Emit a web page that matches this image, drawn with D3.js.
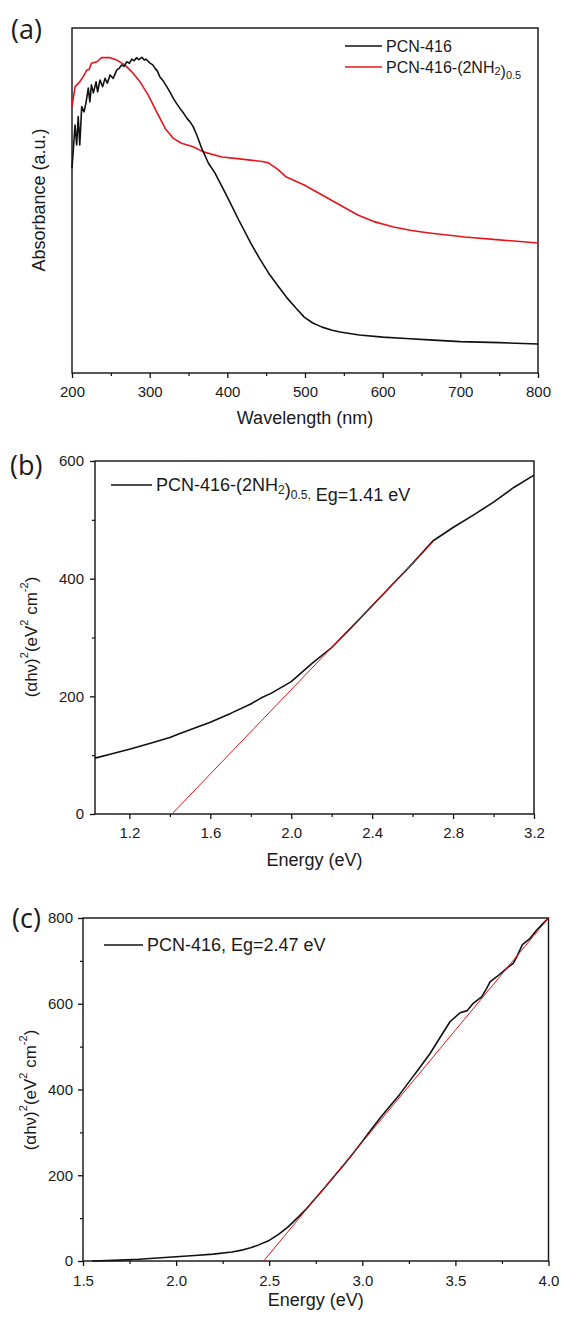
<!DOCTYPE html>
<html>
<head>
<meta charset="utf-8">
<script src="https://cdn.jsdelivr.net/npm/d3@7"></script>
<style>
  html, body { margin: 0; padding: 0; background: #fff; }
  svg { display: block; }
  text { font-family: "Liberation Sans", Arial, sans-serif; fill: #1a1a1a; }
  .panel-tag { font-family: "Open Sans", "Noto Sans", sans-serif; }
</style>
</head>
<body>
<svg id="fig" width="561" height="1320"></svg>
<script>
// ---------- (a) UV-vis absorbance spectra ----------
const wlPCN416 = [200,203.9,206,208,210,212.5,215.5,218,221,223,225,227.5,231,233,236,239.5,242.5,245.5,249,253,257.6,261,264,267,270.5,274,277,280,283,286,290,293,295,300.5,304,307,310,313,317,322,326,330.5,335,339,344,348,352,356,360.7,367,375.7,384,392,402,415,430,442,453,465,476,488,499,510,522,535,545,570,600,630,660,700,750,800];
const absPCN416 = [0.593,0.719,0.661,0.743,0.661,0.772,0.757,0.783,0.826,0.786,0.835,0.812,0.844,0.815,0.849,0.830,0.854,0.840,0.864,0.854,0.878,0.884,0.893,0.889,0.902,0.898,0.910,0.905,0.914,0.908,0.915,0.907,0.910,0.898,0.893,0.883,0.875,0.859,0.848,0.830,0.815,0.796,0.780,0.767,0.752,0.738,0.728,0.714,0.690,0.651,0.608,0.580,0.545,0.501,0.442,0.377,0.330,0.290,0.253,0.220,0.189,0.162,0.145,0.133,0.124,0.119,0.110,0.104,0.100,0.096,0.091,0.088,0.084];

const wlNH2 = [200,204,210,214.5,219,222,225,232,235,238,249,257.6,268,277,287.6,298,309,320,330.5,341,356,369,393,410,430,445,453,465,476,499,522,545,568,590,614,637,660,706,750,800];
const absNH2 = [0.772,0.830,0.844,0.859,0.878,0.880,0.898,0.902,0.908,0.914,0.914,0.907,0.893,0.873,0.844,0.806,0.757,0.709,0.680,0.666,0.656,0.641,0.626,0.622,0.617,0.613,0.609,0.590,0.568,0.545,0.516,0.487,0.458,0.438,0.423,0.413,0.406,0.394,0.386,0.377];

const wlTicks = [200,300,400,500,600,700,800];
const wlMinorTicks = [250,350,450,550,650,750];

// ---------- (b) Tauc plot, PCN-416-(2NH2)0.5 ----------
const energyB = [1.03,1.1,1.2,1.3,1.4,1.45,1.5,1.6,1.7,1.8,1.85,1.9,2.0,2.1,2.2,2.3,2.4,2.5,2.6,2.7,2.8,2.9,3.0,3.1,3.2];
const taucB   = [95,101,110,120,130,137,143,156,171,187,197,205,225,255,283,318,354,390,426,464,487,508,530,555,576];
const fitEnergyB = [1.41, 2.70];
const fitTaucB   = [0, 462];
const energyTicksB = [1.2,1.6,2.0,2.4,2.8,3.2];
const energyMinorB = [1.4,1.8,2.2,2.6,3.0];
const taucTicksB = [0,200,400,600];
const taucMinorB = [100,300,500];

// ---------- (c) Tauc plot, PCN-416 ----------
const energyC = [1.55,1.7,1.8,1.9,2.0,2.1,2.2,2.3,2.36,2.4,2.44,2.5,2.55,2.6,2.65,2.7,2.75,2.8,2.85,2.9,2.95,3.0,3.05,3.1,3.15,3.2,3.265,3.3,3.364,3.426,3.471,3.525,3.564,3.596,3.623,3.641,3.668,3.686,3.722,3.766,3.79,3.811,3.83,3.86,3.9,3.937,3.97,4.0];
const taucC   = [0,2,4,7,10,13,16,21,26,31,37,48,62,79,100,122,147,172,198,224,251,279,308,336,362,388,426,446,484,527,558,579,584,601,610,616,636,651,663,679,688,694,710,738,752,772,787,800];
const fitEnergyC = [2.47, 4.0];
const fitTaucC   = [0, 800];
const energyTicksC = [1.5,2.0,2.5,3.0,3.5,4.0];
const energyMinorC = [1.75,2.25,2.75,3.25,3.75];
const taucTicksC = [0,200,400,600,800];
const taucMinorC = [100,300,500,700];

const BLACK = "#111";
const RED = "#e8141c";

const svg = d3.select("#fig");

function zip(xs, ys) { return xs.map((x, i) => [x, ys[i]]); }

function framePanel(opt) {
  const g = svg.append("g");
  const x = d3.scaleLinear().domain(opt.xDomain).range([opt.left, opt.right]);
  const y = d3.scaleLinear().domain(opt.yDomain).range([opt.bottom, opt.top]);

  // bottom axis: major + minor ticks
  const xa = g.append("g").attr("transform", `translate(0,${opt.bottom})`)
    .call(d3.axisBottom(x).tickValues(opt.xTicks).tickFormat(opt.xFormat)
      .tickSize(5).tickSizeOuter(0).tickPadding(opt.xPad));
  xa.select(".domain").remove();
  xa.selectAll("line").attr("stroke", BLACK).attr("stroke-width", 1.3);
  xa.selectAll("text").style("font-size", "15px").attr("fill", "#222");
  const xm = g.append("g").attr("transform", `translate(0,${opt.bottom})`)
    .call(d3.axisBottom(x).tickValues(opt.xMinor).tickFormat("").tickSize(3).tickSizeOuter(0));
  xm.select(".domain").remove();
  xm.selectAll("line").attr("stroke", BLACK).attr("stroke-width", 1.2);

  if (opt.yTicks) {
    const ya = g.append("g").attr("transform", `translate(${opt.left},0)`)
      .call(d3.axisLeft(y).tickValues(opt.yTicks).tickFormat(d3.format("d"))
        .tickSize(5).tickSizeOuter(0).tickPadding(opt.yPad));
    ya.select(".domain").remove();
    ya.selectAll("line").attr("stroke", BLACK).attr("stroke-width", 1.3);
    ya.selectAll("text").style("font-size", "15px").attr("fill", "#222");
    const ym = g.append("g").attr("transform", `translate(${opt.left},0)`)
      .call(d3.axisLeft(y).tickValues(opt.yMinor).tickFormat("").tickSize(3).tickSizeOuter(0));
    ym.select(".domain").remove();
    ym.selectAll("line").attr("stroke", BLACK).attr("stroke-width", 1.2);
  }

  // box frame
  g.append("rect")
    .attr("x", opt.left).attr("y", opt.top)
    .attr("width", opt.right - opt.left).attr("height", opt.bottom - opt.top)
    .attr("fill", "none").attr("stroke", BLACK).attr("stroke-width", 1.4);

  // x title
  g.append("text")
    .attr("x", (opt.left + opt.right) / 2).attr("y", opt.xTitleY)
    .attr("text-anchor", "middle").attr("dominant-baseline", "central")
    .style("font-size", "18px").text(opt.xTitle);

  // panel tag
  g.append("text").attr("class", "panel-tag")
    .attr("x", opt.tagX).attr("y", opt.tagY)
    .attr("dominant-baseline", "central")
    .style("font-size", "27px").text(opt.tag);

  return { g, x, y };
}

function taucTitle(g, cx, cy) {
  const t = g.append("text")
    .attr("transform", `translate(${cx},${cy}) rotate(-90)`)
    .attr("text-anchor", "middle").attr("dominant-baseline", "central")
    .style("font-size", "17px");
  t.append("tspan").text("(αhν)");
  t.append("tspan").attr("dy", -7).style("font-size", "11px").text("2");
  t.append("tspan").attr("dy", 7).text("(eV");
  t.append("tspan").attr("dy", -7).style("font-size", "11px").text("2");
  t.append("tspan").attr("dy", 7).text(" cm");
  t.append("tspan").attr("dy", -7).style("font-size", "11px").text("-2");
  t.append("tspan").attr("dy", 7).text(")");
}

function legendRow(g, x1, x2, yy, color, size, parts) {
  g.append("line").attr("x1", x1).attr("x2", x2).attr("y1", yy).attr("y2", yy)
    .attr("stroke", color).attr("stroke-width", 1.6);
  const subSize = Math.round(size * 0.66);
  const drop = Math.round(size * 0.28);
  const t = g.append("text").attr("x", x2 + 4).attr("y", yy)
    .attr("dominant-baseline", "central").style("font-size", size + "px");
  parts.forEach(p => {
    if (p.sub) {
      t.append("tspan").attr("dy", drop).style("font-size", subSize + "px").text(p.sub);
      t.append("tspan").attr("dy", -drop).text("");
    } else {
      t.append("tspan").text(p.text);
    }
  });
}

const line = (sx, sy) => d3.line().x(d => sx(d[0])).y(d => sy(d[1]));

// ===== Panel (a) =====
{
  const p = framePanel({
    left: 72, right: 538, top: 28, bottom: 373,
    xDomain: [200, 800], yDomain: [0, 1],
    xTicks: wlTicks, xMinor: wlMinorTicks, xFormat: d3.format("d"), xPad: 8,
    xTitle: "Wavelength (nm)", xTitleY: 418,
    tag: "(a)", tagX: 11, tagY: 28
  });
  p.g.append("text")
    .attr("transform", "translate(39,200) rotate(-90)")
    .attr("text-anchor", "middle").attr("dominant-baseline", "central")
    .style("font-size", "18px").text("Absorbance (a.u.)");

  p.g.append("path").datum(zip(wlNH2, absNH2))
    .attr("d", line(p.x, p.y)).attr("fill", "none")
    .attr("stroke", RED).attr("stroke-width", 1.6).attr("stroke-linejoin", "round");
  p.g.append("path").datum(zip(wlPCN416, absPCN416))
    .attr("d", line(p.x, p.y)).attr("fill", "none")
    .attr("stroke", BLACK).attr("stroke-width", 1.6).attr("stroke-linejoin", "round");

  legendRow(p.g, 345, 382, 46, BLACK, 16, [{ text: "PCN-416" }]);
  legendRow(p.g, 345, 382, 67, RED, 16, [{ text: "PCN-416-(2NH" }, { sub: "2" }, { text: ")" }, { sub: "0.5" }]);
}

// ===== Panel (b) =====
{
  const p = framePanel({
    left: 95, right: 534, top: 461, bottom: 814,
    xDomain: [1.03, 3.2], yDomain: [0, 600],
    xTicks: energyTicksB, xMinor: energyMinorB, xFormat: d3.format(".1f"), xPad: 8,
    yTicks: taucTicksB, yMinor: taucMinorB, yPad: 6,
    xTitle: "Energy (eV)", xTitleY: 860,
    tag: "(b)", tagX: 10, tagY: 464
  });
  taucTitle(p.g, 31, 637);

  p.g.append("path").datum(zip(energyB, taucB))
    .attr("d", line(p.x, p.y)).attr("fill", "none")
    .attr("stroke", BLACK).attr("stroke-width", 1.6).attr("stroke-linejoin", "round");
  p.g.append("path").datum(zip(fitEnergyB, fitTaucB))
    .attr("d", line(p.x, p.y)).attr("fill", "none")
    .attr("stroke", RED).attr("stroke-width", 1);

  legendRow(p.g, 111, 152, 485, BLACK, 18,
    [{ text: "PCN-416-(2NH" }, { sub: "2" }, { text: ")" }, { sub: "0.5," }, { text: " Eg=1.41 eV" }]);
}

// ===== Panel (c) =====
{
  const p = framePanel({
    left: 83, right: 548.5, top: 918, bottom: 1261,
    xDomain: [1.5, 4.0], yDomain: [0, 800],
    xTicks: energyTicksC, xMinor: energyMinorC, xFormat: d3.format(".1f"), xPad: 9,
    yTicks: taucTicksC, yMinor: taucMinorC, yPad: 5,
    xTitle: "Energy (eV)", xTitleY: 1300,
    tag: "(c)", tagX: 12, tagY: 917
  });
  taucTitle(p.g, 30, 1090);

  p.g.append("path").datum(zip(energyC, taucC))
    .attr("d", line(p.x, p.y)).attr("fill", "none")
    .attr("stroke", BLACK).attr("stroke-width", 1.6).attr("stroke-linejoin", "round");
  p.g.append("path").datum(zip(fitEnergyC, fitTaucC))
    .attr("d", line(p.x, p.y)).attr("fill", "none")
    .attr("stroke", RED).attr("stroke-width", 1);

  legendRow(p.g, 104, 143, 945, BLACK, 18, [{ text: "PCN-416, Eg=2.47 eV" }]);
}
</script>
</body>
</html>
